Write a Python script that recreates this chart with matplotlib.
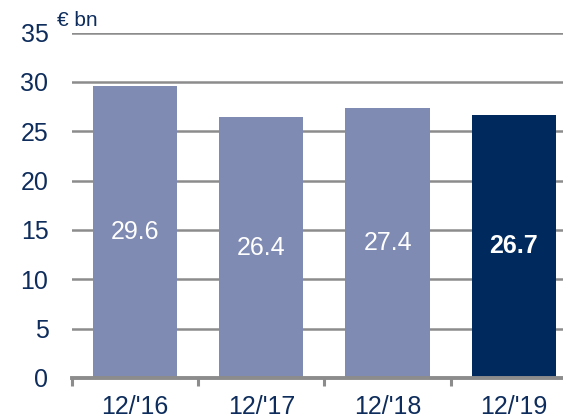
import matplotlib.pyplot as plt
import numpy as np

plt.rcParams['font.family'] = ['Liberation Sans', 'DejaVu Sans']

categories = ["12/'16", "12/'17", "12/'18", "12/'19"]
values = [29.6, 26.4, 27.4, 26.7]
bar_colors = ['#7f8bb3', '#7f8bb3', '#7f8bb3', '#00295e']
label_bold = [False, False, False, True]
yticks = [0, 5, 10, 15, 20, 25, 30, 35]

text_color = '#0e2d5c'
grid_color = '#8c8c8c'

fig = plt.figure(figsize=(5.63, 4.18), dpi=100)
ax = fig.add_axes([0.128, 0.0957, 0.872, 0.8263])

x = np.arange(len(categories))
ax.bar(x, values, width=0.667, color=bar_colors, zorder=3)

for xi, v, b in zip(x, values, label_bold):
    ax.text(xi, v / 2, f'{v:.1f}', ha='center', va='center', color='white',
            fontsize=18, fontweight='bold' if b else 'normal', zorder=4)

ax.set_ylim(0, 35)
ax.set_xlim(-0.5, 3.39)
ax.set_yticks(yticks)
ax.set_yticklabels([str(t) for t in yticks], fontsize=18, color=text_color)
ax.yaxis.grid(True, color=grid_color, linewidth=1.8, zorder=0)
ax.tick_params(axis='y', length=0, pad=17)

# category ticks sit at boundaries, labels at centers
ax.set_xticks(np.arange(-0.5, 3.5, 1.0))
ax.set_xticklabels([])
ax.set_xticks(x, minor=True)
ax.set_xticklabels(categories, minor=True, fontsize=18, color=text_color)
ax.tick_params(axis='x', which='major', length=6, width=2.2, color=grid_color, direction='out')
ax.tick_params(axis='x', which='minor', length=0, pad=12)

for s in ['top', 'right', 'left']:
    ax.spines[s].set_visible(False)
ax.spines['bottom'].set_color(grid_color)
ax.spines['bottom'].set_linewidth(2.8)
ax.spines['bottom'].set_zorder(5)

fig.text(0.101, 0.952, '€ bn', fontsize=15, color=text_color, ha='left', va='center')

fig.savefig('out.png', dpi=100)
